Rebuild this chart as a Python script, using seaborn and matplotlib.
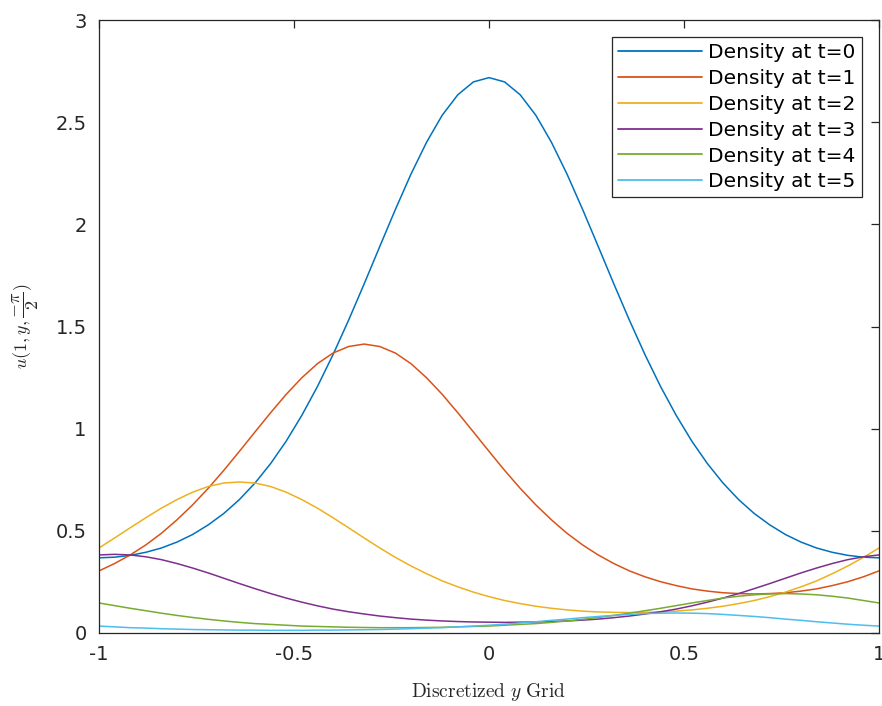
import numpy as np
import pandas as pd
import matplotlib
matplotlib.use("Agg")
import matplotlib.pyplot as plt
import seaborn as sns

# ---- data (51 points on y in [-1, 1]) ----
y_grid = np.linspace(-1, 1, 51)

dens_t0 = [0.368, 0.371, 0.380, 0.395, 0.416, 0.445, 0.482, 0.529, 0.585, 0.653, 0.734, 0.829, 0.939,
           1.065, 1.206, 1.362, 1.531, 1.709, 1.892, 2.073, 2.246, 2.402, 2.534, 2.634, 2.697, 2.718,
           2.697, 2.634, 2.534, 2.402, 2.246, 2.073, 1.892, 1.709, 1.531, 1.362, 1.206, 1.065, 0.939,
           0.829, 0.734, 0.653, 0.585, 0.529, 0.482, 0.445, 0.416, 0.395, 0.380, 0.371, 0.368]

dens_t1 = [0.304, 0.340, 0.382, 0.431, 0.488, 0.554, 0.627, 0.708, 0.796, 0.889, 0.984, 1.078, 1.168,
           1.249, 1.318, 1.370, 1.402, 1.414,
           1.402, 1.370, 1.318, 1.249, 1.168, 1.078, 0.984, 0.889, 0.796, 0.708, 0.627, 0.554, 0.488,
           0.431, 0.382, 0.340, 0.304, 0.275, 0.251, 0.232, 0.216, 0.205, 0.197, 0.193, 0.191,
           0.193, 0.197, 0.205, 0.216, 0.232, 0.251, 0.275, 0.304]

dens_t2 = [0.416, 0.465, 0.515, 0.564, 0.611, 0.653, 0.689, 0.717, 0.734, 0.739,
           0.734, 0.717, 0.689, 0.653, 0.611, 0.564, 0.515, 0.465, 0.416, 0.370, 0.328, 0.290, 0.255,
           0.226, 0.200, 0.178, 0.159, 0.144, 0.131, 0.121, 0.113, 0.107, 0.103, 0.101, 0.100,
           0.101, 0.103, 0.107, 0.113, 0.121, 0.131, 0.144, 0.159, 0.178, 0.200, 0.226, 0.255, 0.290,
           0.328, 0.370, 0.416]

dens_t3 = [0.382, 0.385,
           0.382, 0.373, 0.359, 0.340, 0.318, 0.294, 0.268, 0.242, 0.217, 0.193, 0.171, 0.151, 0.133,
           0.117, 0.104, 0.093, 0.083, 0.075, 0.068, 0.063, 0.059, 0.056, 0.054, 0.053, 0.052,
           0.053, 0.054, 0.056, 0.059, 0.063, 0.068, 0.075, 0.083, 0.093, 0.104, 0.117, 0.133, 0.151,
           0.171, 0.193, 0.217, 0.242, 0.268, 0.294, 0.318, 0.340, 0.359, 0.373, 0.382]

dens_t4 = [0.147, 0.134, 0.121, 0.109, 0.097, 0.086, 0.076, 0.067, 0.059, 0.052, 0.046, 0.042, 0.038,
           0.034, 0.032, 0.030, 0.028, 0.027, 0.026,
           0.026, 0.026, 0.027, 0.028, 0.030, 0.032, 0.034, 0.038, 0.042, 0.046, 0.052, 0.059, 0.067,
           0.076, 0.086, 0.097, 0.109, 0.121, 0.134, 0.147, 0.159, 0.171, 0.180, 0.187, 0.191,
           0.193,
           0.191, 0.187, 0.180, 0.171, 0.159, 0.147]

dens_t5 = [0.034, 0.030, 0.026, 0.024, 0.021, 0.019, 0.017, 0.016, 0.015, 0.014, 0.014, 0.013,
           0.013, 0.013, 0.014, 0.014, 0.015, 0.016, 0.017, 0.019, 0.021, 0.024, 0.026, 0.030, 0.034,
           0.038, 0.043, 0.049, 0.055, 0.062, 0.068, 0.075, 0.081, 0.086, 0.091, 0.095, 0.097,
           0.098,
           0.097, 0.095, 0.091, 0.086, 0.081, 0.075, 0.068, 0.062, 0.055, 0.049, 0.043, 0.038, 0.034]

series_labels = ["Density at t=0", "Density at t=1", "Density at t=2",
                 "Density at t=3", "Density at t=4", "Density at t=5"]
series_values = [dens_t0, dens_t1, dens_t2, dens_t3, dens_t4, dens_t5]

x_ticks = [-1, -0.5, 0, 0.5, 1]
x_tick_labels = ["-1", "-0.5", "0", "0.5", "1"]
y_ticks = [0, 0.5, 1, 1.5, 2, 2.5, 3]
y_tick_labels = ["0", "0.5", "1", "1.5", "2", "2.5", "3"]

colors = ["#0072BD", "#D95319", "#EDB120", "#7E2F8E", "#77AC30", "#4DBEEE"]

# ---- long-form table ----
frames = []
for lab, vals in zip(series_labels, series_values):
    frames.append(pd.DataFrame({"y": y_grid, "u": vals, "series": lab}))
df = pd.concat(frames, ignore_index=True)

sns.set_style("white")
plt.rcParams["font.family"] = ["DejaVu Sans"]
plt.rcParams["mathtext.fontset"] = "cm"

fig = plt.figure(figsize=(8.82, 7.06), dpi=100)
ax = fig.add_axes([99 / 882, (706 - 633) / 706, 780 / 882, 613 / 706])

sns.lineplot(data=df, x="y", y="u", hue="series", hue_order=series_labels,
             palette=colors, linewidth=1.1, ax=ax, sort=False)

ax.set_xlim(-1, 1)
ax.set_ylim(0, 3)
ax.set_xticks(x_ticks)
ax.set_xticklabels(x_tick_labels)
ax.set_yticks(y_ticks)
ax.set_yticklabels(y_tick_labels)

dark = "#262626"
for s in ax.spines.values():
    s.set_visible(True)
    s.set_color(dark)
    s.set_linewidth(0.9)
ax.tick_params(axis="both", which="major", direction="in", length=6, width=0.9,
               colors=dark, labelsize=14, top=True, right=True, pad=9)

ax.set_xlabel(r"$\mathrm{Discretized}\ y\ \mathrm{Grid}$", fontsize=14, color=dark, labelpad=12)
ax.set_ylabel(r"$u(1, y, \dfrac{-\pi}{2})$", fontsize=13, color=dark, labelpad=10)

leg = ax.legend(loc="upper right", fontsize=14.5, frameon=True, fancybox=False,
                framealpha=1, edgecolor=dark, handlelength=4.2, handletextpad=0.3,
                borderaxespad=0.85, labelspacing=0.34, borderpad=0.3)
leg.get_frame().set_linewidth(0.9)
for line in leg.get_lines():
    line.set_linewidth(1.3)
for t in leg.get_texts():
    t.set_color("black")

fig.savefig("out.png", dpi=100)
